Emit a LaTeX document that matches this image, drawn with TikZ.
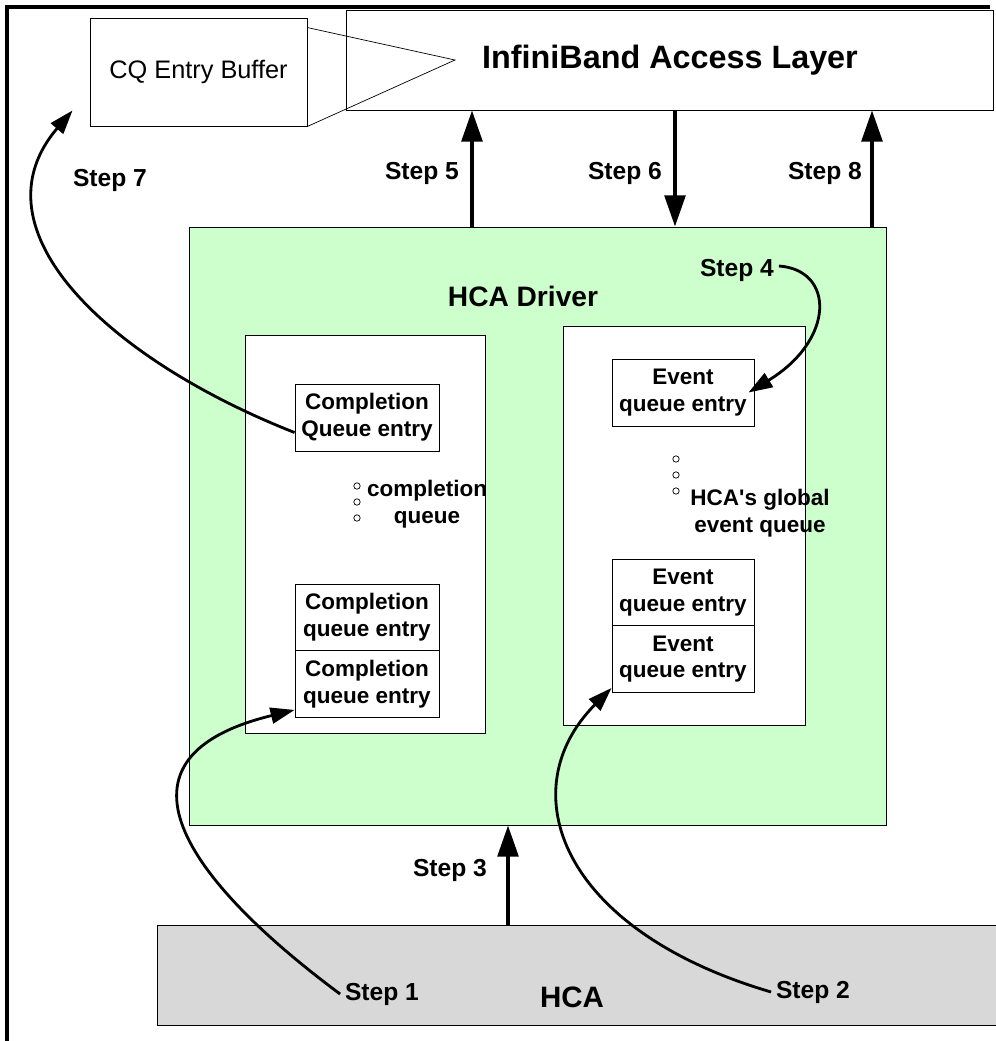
\documentclass[tikz,border=0pt]{standalone}
\usepackage{fontspec}
\setmainfont{Liberation Sans}
\usetikzlibrary{arrows.meta}
\definecolor{drivergreen}{HTML}{CCFFCC}
\definecolor{hcagray}{HTML}{D8D8D8}
\tikzset{
  layer/.style = {draw, line width=0.6pt, inner sep=0pt},
  entry/.style = {draw, fill=white, line width=0.6pt, minimum width=3.6cm, minimum height=1.675cm,
                  inner sep=0pt, align=center, font=\fontsize{16}{19}\selectfont\bfseries},
  qdot/.style = {draw, circle, minimum size=0.16cm, inner sep=0pt, line width=0.5pt},
  qname/.style = {align=center, font=\fontsize{16}{19}\selectfont\bfseries},
  steplabel/.style = {font=\fontsize{17.5}{20}\selectfont\bfseries},
  bigarrow/.style = {line width=2.5pt, -{Triangle[length=0.78cm, width=0.52cm]}},
  curvearrow/.style = {line width=2pt, -{Triangle[length=0.6cm, width=0.4cm]}}
}

\begin{document}
\begin{tikzpicture}[x=0.025cm, y=-0.025cm]
\useasboundingbox (0,0) rectangle (995,1041);
\draw[line width=2.2pt] (990,7) -- (7,7) -- (7,1041);

% access layer and the buffer callout
\node[layer, minimum width=16.15cm, minimum height=2.5cm,
      font=\fontsize{23}{26}\selectfont\bfseries] (ial) at (670,60) {InfiniBand Access Layer};
\node[layer, fill=white, minimum width=5.425cm, minimum height=2.7cm,
      font=\fontsize{18}{21}\selectfont] (buffer) at (198.5,72) {CQ Entry Buffer};
\coordinate (calltip) at (455,60);
\draw[line width=0.5pt] ([yshift=-0.25cm]buffer.north east) -- (calltip) -- (buffer.south east);

% driver with its two queues
\node[layer, fill=drivergreen, minimum width=17.4cm, minimum height=14.95cm] (driver) at (538,526) {};
\node[font=\fontsize{20}{24}\selectfont\bfseries] (drivername) at (523,296) {HCA Driver};

\node[layer, fill=white, minimum width=6cm, minimum height=9.95cm] (cqueue) at (365,534) {};
\node[entry] (cqtop) at (367,417.5) {Completion\\Queue entry};
\node[entry] (cq1) at (367,617.5) {Completion\\queue entry};
\node[entry] (cq2) at (367,684) {Completion\\queue entry};
\foreach \y in {486,502,518}
  \node[qdot] (cdot\y) at (357,\y) {};
\node[qname] (cqname) at (427,504) {completion\\queue};

\node[layer, fill=white, minimum width=6.05cm, minimum height=9.975cm] (equeue) at (684,525.5) {};
\node[entry, minimum width=3.55cm] (eqtop) at (683,392.5) {Event\\queue entry};
\node[entry, minimum width=3.55cm] (eq1) at (683,592.5) {Event\\queue entry};
\node[entry, minimum width=3.55cm] (eq2) at (683,659) {Event\\queue entry};
\foreach \y in {459,475,491}
  \node[qdot] (edot\y) at (676,\y) {};
\node[qname] (eqname) at (760,513) {HCA\textquotesingle s global\\event queue};

% adapter
\node[layer, fill=hcagray, minimum width=21.05cm, minimum height=2.5cm] (hca) at (579,975) {};
\node[font=\fontsize{21}{24}\selectfont\bfseries] (hcaname) at (572,997) {HCA};

% steps
\node[steplabel] (s1) at (382,994) {Step 1};
\node[steplabel] (s2) at (813,992) {Step 2};
\node[steplabel] (s3) at (450,870) {Step 3};
\node[steplabel] (s4) at (737,270) {Step 4};
\node[steplabel] (s5) at (422,173) {Step 5};
\node[steplabel] (s6) at (625,173) {Step 6};
\node[steplabel] (s7) at (110,180) {Step 7};
\node[steplabel] (s8) at (825,173) {Step 8};

\draw[bigarrow] (hca.north -| 508,0) -- (driver.south -| 508,0);
\draw[bigarrow] (driver.north -| 472,0) -- (ial.south -| 472,0);
\draw[bigarrow] (ial.south -| 675,0) -- (driver.north -| 675,0);
\draw[bigarrow] (driver.north -| 872,0) -- (ial.south -| 872,0);

\draw[curvearrow] (s1.west) .. controls (200,890) and (90,760) .. ([yshift=0.2cm]cq2.south west);
\draw[curvearrow] (s2.west) .. controls (560,930) and (510,790) .. ([yshift=0.125cm]eq2.south west);
\draw[curvearrow] ([yshift=0.1cm]s4.east) .. controls (835,270) and (835,340) .. ([xshift=-0.15cm]eqtop.east);
\draw[curvearrow] ([yshift=-0.375cm]cqtop.west) .. controls (110,360) and (-30,230)
  .. ([xshift=-0.425cm, yshift=0.4cm]buffer.south west);
\end{tikzpicture}
\end{document}
